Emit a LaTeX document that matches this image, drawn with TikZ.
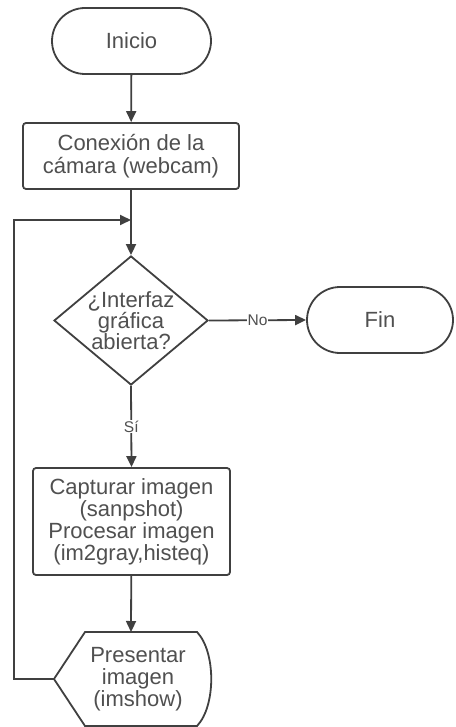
\documentclass[tikz,border=0pt]{standalone}
\usepackage{fontspec}
\setmainfont{Liberation Sans}
\usetikzlibrary{shapes.geometric,arrows.meta}
\definecolor{ln}{HTML}{404040}
\definecolor{tx}{HTML}{505050}
\begin{document}
\begin{tikzpicture}[x=1pt,y=-1pt,
  every node/.style={text=tx, font=\fontsize{22}{23}\selectfont},
  term/.style={draw=ln, line width=1.8pt, fill=white, rectangle, rounded corners=33pt, minimum height=66pt, inner sep=0pt},
  proc/.style={draw=ln, line width=1.8pt, fill=white, rectangle, rounded corners=3pt, inner sep=0pt, align=center},
  dec/.style={draw=ln, line width=1.8pt, fill=white, diamond, minimum width=154pt, minimum height=129pt, inner sep=0pt},
  txt/.style={align=center, inner sep=0pt},
  lbl/.style={fill=white, inner sep=1pt, font=\fontsize{15.5}{17}\selectfont},
  flow/.style={draw=ln, line width=1.8pt, -{Triangle[length=11pt,width=10pt]}},
  plain/.style={draw=ln, line width=1.8pt}]
\useasboundingbox (0,0) rectangle (455,727);
\clip (0,0) rectangle (455,727);

\node[term, minimum width=159pt] (ini) at (131.5,41) {Inicio};
\node[proc, minimum width=216pt, minimum height=66pt] (con) at (131,156) {Conexión de la\\cámara (webcam)};
\node[dec] (d) at (131,320.5) {};
\node[txt, font=\fontsize{22}{21}\selectfont] at (d) {¿Interfaz\\gráfica\\abierta?};
\node[term, minimum width=146pt] (fin) at (380,320) {Fin};
\node[proc, minimum width=197pt, minimum height=107pt, font=\fontsize{22}{22}\selectfont] (cap) at (131.5,521.5) {Capturar imagen\\(sanpshot)\\Procesar imagen\\(im2gray,histeq)};

% display shape
\coordinate (dtop) at (131,632);
\coordinate (dleft) at (54,679);
\draw[ln, line width=1.8pt, fill=white] (dleft) -- (85,632) -- (197,632)
  .. controls (216,652) and (216,706) .. (197,726) -- (85,726) -- cycle;
\node[txt, font=\fontsize{22}{22}\selectfont] (disp) at (138,679) {Presentar\\imagen\\(imshow)};

\coordinate (c1) at (14,679);
\coordinate (c2) at (14,220);
\coordinate (join) at (131,220);

\draw[flow] (ini) -- (con);
\draw[flow] (con) -- (d.north);
\draw[flow] (d.east) -- node[lbl]{No} (fin.west);
\draw[flow] (d.south) -- node[lbl]{Sí} (cap.north);
\draw[flow] (cap) -- (dtop);
\draw[flow] (dleft) -- (c1) -- (c2) -- (join);
\end{tikzpicture}
\end{document}
